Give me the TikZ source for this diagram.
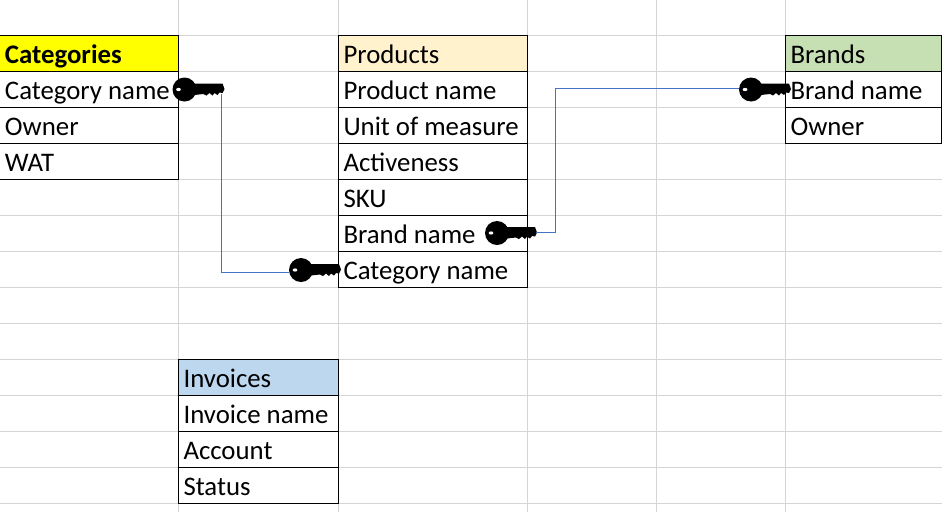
\documentclass[tikz,border=0pt]{standalone}
\usepackage{fontspec}
\setmainfont{Carlito}
\usepackage{xcolor}
\usetikzlibrary{positioning}
\definecolor{gridclr}{RGB}{212,212,212}
\definecolor{linkclr}{RGB}{68,114,196}
\definecolor{catclr}{RGB}{255,255,0}
\definecolor{prodclr}{RGB}{255,242,204}
\definecolor{brandclr}{RGB}{198,224,180}
\definecolor{invclr}{RGB}{189,215,238}
\tikzset{
  x=1pt,y=1pt,
  cell/.style={rectangle,draw=black,line width=1pt,outer sep=0pt,inner xsep=5pt,inner ysep=0pt,
               minimum height=36pt,text width=#1-10pt,align=flush left,text height=22pt,text depth=1.5pt,
               font=\fontsize{26.8}{26.8}\selectfont},
  catcell/.style={cell=177.5pt,inner xsep=6pt},
  link/.style={draw=linkclr,line width=0.9pt},
  keyicon/.pic={
    \fill[black] (0,0) circle (12);
    \fill[black] (5,6) -- (38,6) -- (40,0.5) -- (38,-3.5) -- (35,-3) -- (33,-5.5) -- (30,-3.5)
      -- (28,-6) -- (25,-3.5) -- (22,-6) -- (19,-4.5) -- (5,-6) -- cycle;
    \fill[white] (-6,0) ellipse (2.4 and 1.6);
    \coordinate (-bow) at (-12,0);
    \coordinate (-tip) at (39,0);
  },
}
\begin{document}
\begin{tikzpicture}
\useasboundingbox (0,0) rectangle (942,-512);
% sheet grid
\foreach \yy in {35.5,71.5,...,503.5}
  \draw[gridclr,line width=1pt] (0,-\yy) -- (942,-\yy);
\foreach \xx in {178.5,338.5,527.5,656.5,785.5}
  \draw[gridclr,line width=1pt] (\xx,0) -- (\xx,-512);
% tables
\node[catcell,fill=catclr,anchor=north west] (cat) at (-1,-35.5) {\textbf{Categories}};
\node[catcell,below=0pt of cat] (catname) {Category name};
\node[catcell,below=0pt of catname] (catowner) {Owner};
\node[catcell,below=0pt of catowner] (catwat) {WAT};
\node[cell=189pt,fill=prodclr,anchor=north west] (prod) at (338.5,-35.5) {Products};
\node[cell=189pt,below=0pt of prod] (prodname) {Product name};
\node[cell=189pt,below=0pt of prodname] (produnit) {Unit of measure};
\node[cell=189pt,below=0pt of produnit] (prodact) {Activeness};
\node[cell=189pt,below=0pt of prodact] (prodsku) {SKU};
\node[cell=189pt,below=0pt of prodsku] (prodbrand) {Brand name};
\node[cell=189pt,below=0pt of prodbrand] (prodcat) {Category name};
\node[cell=155.5pt,fill=brandclr,anchor=north west] (brand) at (785.5,-35.5) {Brands};
\node[cell=155.5pt,below=0pt of brand] (brandname) {Brand name};
\node[cell=155.5pt,below=0pt of brandname] (brandowner) {Owner};
\node[cell=160pt,fill=invclr,anchor=north west] (inv) at (178.5,-359.5) {Invoices};
\node[cell=160pt,below=0pt of inv] (invname) {Invoice name};
\node[cell=160pt,below=0pt of invname] (invacc) {Account};
\node[cell=160pt,below=0pt of invacc] (invstat) {Status};
% keys
\pic (keycat) at (184.5,-89.5) {keyicon};
\pic (keyfk) at (301,-270) {keyicon};
\pic (keybrand) at (497,-233) {keyicon};
\pic (keypk) at (751,-89.5) {keyicon};
% relations
\coordinate (bendcat) at (221.5,-272.5);
\coordinate (bendb) at (555.5,-232.5);
\coordinate (bendt) at (555.5,-88.5);
\draw[link] (221.5,-94) -- (bendcat) -- (keyfk-bow |- bendcat);
\draw[link] (keybrand-tip |- bendb) -- (bendb) -- (bendt) -- (keypk-bow |- bendt);
\end{tikzpicture}
\end{document}
